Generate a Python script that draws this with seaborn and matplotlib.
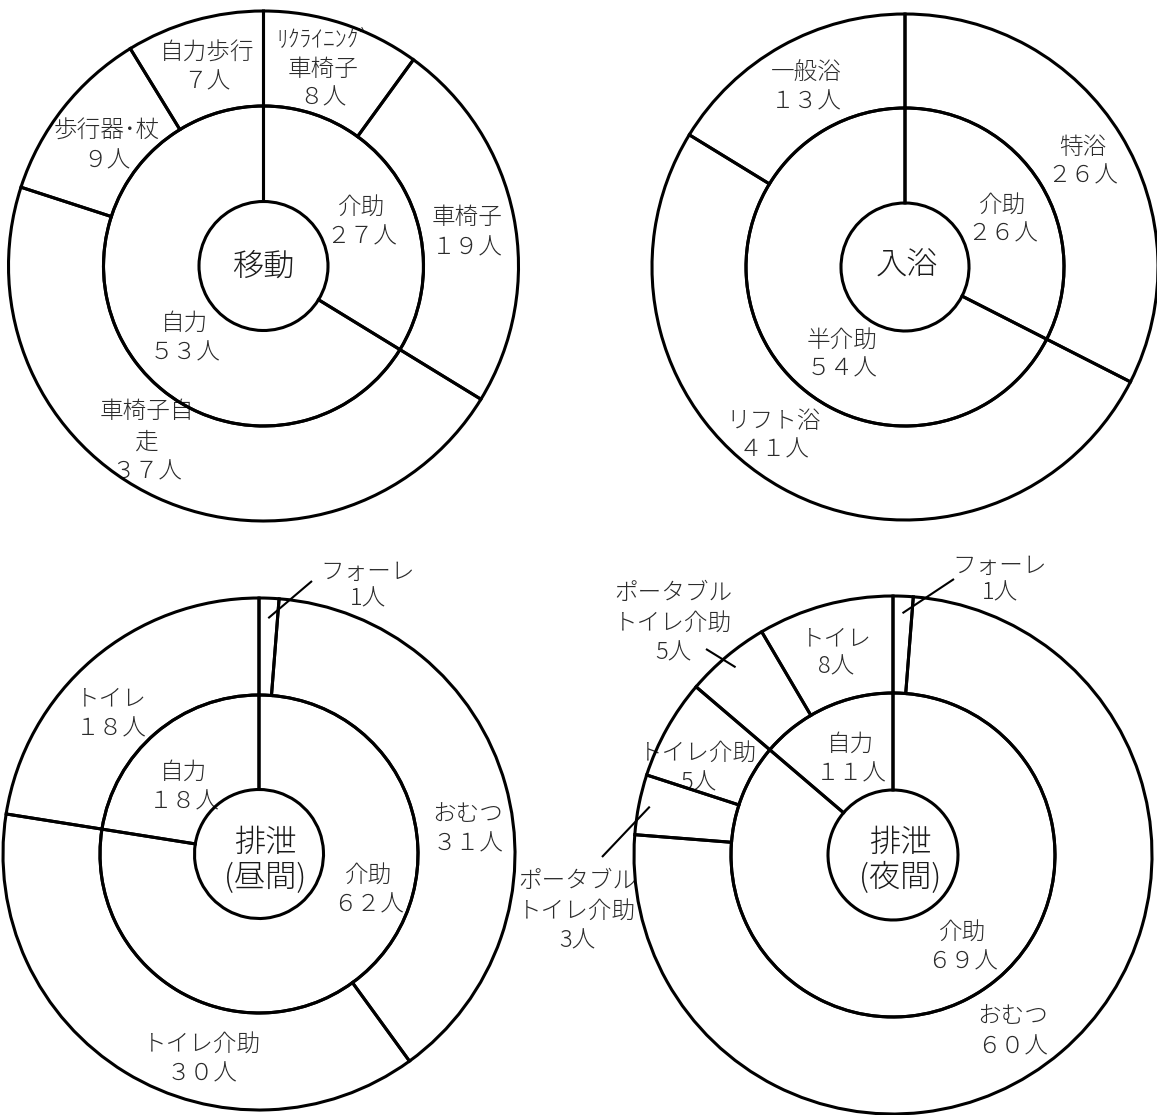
import math

import matplotlib
matplotlib.use("Agg")
import matplotlib.pyplot as plt
import seaborn as sns

sns.set_theme(style="white")
plt.rcParams["font.family"] = ["Noto Sans CJK JP", "DejaVu Sans"]

W, H = 1157, 1115

# ---- 移動 ----
move_inner_labels = ["介助", "自力"]
move_inner_values = [27, 53]
move_outer_labels = ["ﾘｸﾗｲﾆﾝｸﾞ\n車椅子", "車椅子", "車椅子自\n走", "歩行器･杖", "自力歩行"]
move_outer_values = [8, 19, 37, 9, 7]
move_outer_parent = [0, 0, 1, 1, 1]

# ---- 入浴 ----
bath_inner_labels = ["介助", "半介助"]
bath_inner_values = [26, 54]
bath_outer_labels = ["特浴", "リフト浴", "一般浴"]
bath_outer_values = [26, 41, 13]
bath_outer_parent = [0, 1, 1]

# ---- 排泄（昼間） ----
day_inner_labels = ["介助", "自力"]
day_inner_values = [62, 18]
day_outer_labels = ["フォーレ", "おむつ", "トイレ介助", "トイレ"]
day_outer_values = [1, 31, 30, 18]
day_outer_parent = [0, 0, 0, 1]

# ---- 排泄（夜間） ----
night_inner_labels = ["介助", "自力"]
night_inner_values = [69, 11]
night_outer_labels = ["フォーレ", "おむつ", "ポータブル\nトイレ介助", "トイレ介助",
                      "ポータブル\nトイレ介助", "トイレ"]
night_outer_values = [1, 60, 3, 5, 5, 8]
night_outer_parent = [0, 0, 0, 0, 1, 1]

WIDE = str.maketrans("0123456789", "０１２３４５６７８９")
LW = 2.2
LABEL_FS = 17
TITLE_FS = 22.5
LABEL_COLOR = "#2b2b2b"


def count_text(v, wide=True):
    s = str(v)
    return (s.translate(WIDE) if wide else s) + "人"


def polar(cx, cy, ang, r):
    """Point at clockwise angle `ang` (deg from 12 o'clock), image coords."""
    a = math.radians(ang)
    return cx + r * math.sin(a), cy - r * math.cos(a)


def put_lines(ax, lines, x, y, step, fs=LABEL_FS, color=LABEL_COLOR):
    for i, line in enumerate(lines):
        ax.text(x, H - (y + i * step), line, ha="center", va="center",
                fontsize=fs, color=color, fontweight="light", zorder=1)


def draw_chart(ax, title, inner_labels, inner_values, outer_labels, outer_values,
               outer_parent, layout):
    cx, cy = layout["center"]
    r_out, r_mid, r_core = layout["radii"]

    # outer slices share the angular span of their parent slice
    parent_sum = [sum(v for v, p in zip(outer_values, outer_parent) if p == k)
                  for k in range(len(inner_values))]
    outer_sizes = [v / parent_sum[p] * inner_values[p]
                   for v, p in zip(outer_values, outer_parent)]

    common = dict(center=(cx, H - cy), startangle=90, counterclock=False,
                  normalize=True)
    ax.pie(outer_sizes, radius=r_out, colors=["none"] * len(outer_sizes),
           wedgeprops=dict(width=r_out - r_mid, edgecolor="black",
                           linewidth=LW, zorder=2), **common)
    ax.pie(inner_values, radius=r_mid, colors=["none"] * len(inner_values),
           wedgeprops=dict(width=r_mid - r_core, edgecolor="black",
                           linewidth=LW, zorder=2), **common)

    # title in the hub
    tx, ty, tstep = layout["title_pos"]
    put_lines(ax, title.split("\n"), tx, ty, tstep, fs=TITLE_FS, color="#1a1a1a")

    step = layout.get("step", 30)
    for lab, val, (x, y) in zip(inner_labels, inner_values, layout["inner_pos"]):
        put_lines(ax, lab.split("\n") + [count_text(val)], x, y, step)

    narrow = layout.get("narrow", set())
    steps = layout.get("steps", {})
    for i, (lab, val, (x, y)) in enumerate(zip(outer_labels, outer_values,
                                               layout["outer_pos"])):
        put_lines(ax, lab.split("\n") + [count_text(val, i not in narrow)],
                  x, y, steps.get(i, step))

    # leader lines from the middle of thin slices
    total = sum(outer_sizes)
    for i, (r0, ex, ey) in layout.get("leaders", {}).items():
        start = sum(outer_sizes[:i]) / total * 360
        mid = start + outer_sizes[i] / total * 180
        sx, sy = polar(cx, cy, mid, r0)
        ax.plot([sx, ex], [H - sy, H - ey], color="black", lw=1.5,
                solid_capstyle="butt", zorder=2)


fig = plt.figure(figsize=(W / 100, H / 100), dpi=100)
ax = fig.add_axes([0, 0, 1, 1])

draw_chart(ax, "移動", move_inner_labels, move_inner_values,
           move_outer_labels, move_outer_values, move_outer_parent,
           dict(center=(263.5, 266), radii=(255, 160, 64.5),
                title_pos=(263, 267, 0),
                inner_pos=[(362, 207), (185, 323)],
                outer_pos=[(323, 40), (467, 218), (147, 412), (107, 131), (207, 53)],
                steps={0: 29, 4: 29}))

draw_chart(ax, "入浴", bath_inner_labels, bath_inner_values,
           bath_outer_labels, bath_outer_values, bath_outer_parent,
           dict(center=(905, 267), radii=(253, 159, 64),
                title_pos=(907, 266, 0), step=29,
                inner_pos=[(1003, 205), (842, 340)],
                outer_pos=[(1083, 147), (774, 421), (806, 73)]))

draw_chart(ax, "排泄\n(昼間)", day_inner_labels, day_inner_values,
           day_outer_labels, day_outer_values, day_outer_parent,
           dict(center=(259, 854), radii=(256, 159, 64.5),
                title_pos=(265, 843, 35), step=30,
                inner_pos=[(369, 875), (184, 772)],
                outer_pos=[(368, 572), (468, 814), (202, 1044), (111, 699)],
                narrow={0}, steps={0: 27},
                leaders={0: (236, 312, 581)}))

draw_chart(ax, "排泄\n(夜間)", night_inner_labels, night_inner_values,
           night_outer_labels, night_outer_values, night_outer_parent,
           dict(center=(893, 855), radii=(259, 162, 65),
                title_pos=(900, 843, 35), step=30,
                inner_pos=[(963, 932), (851, 744)],
                outer_pos=[(1000, 566), (1013, 1017), (577, 881), (698, 753),
                           (673, 593), (836, 639)],
                narrow={0, 2, 3, 4, 5}, steps={0: 27, 5: 28},
                leaders={0: (242, 954, 579), 2: (248, 602, 857),
                         4: (245, 706, 649)}))

ax.set_xlim(0, W)
ax.set_ylim(0, H)
ax.set_axis_off()
fig.savefig("out.png", dpi=100, facecolor="white")
